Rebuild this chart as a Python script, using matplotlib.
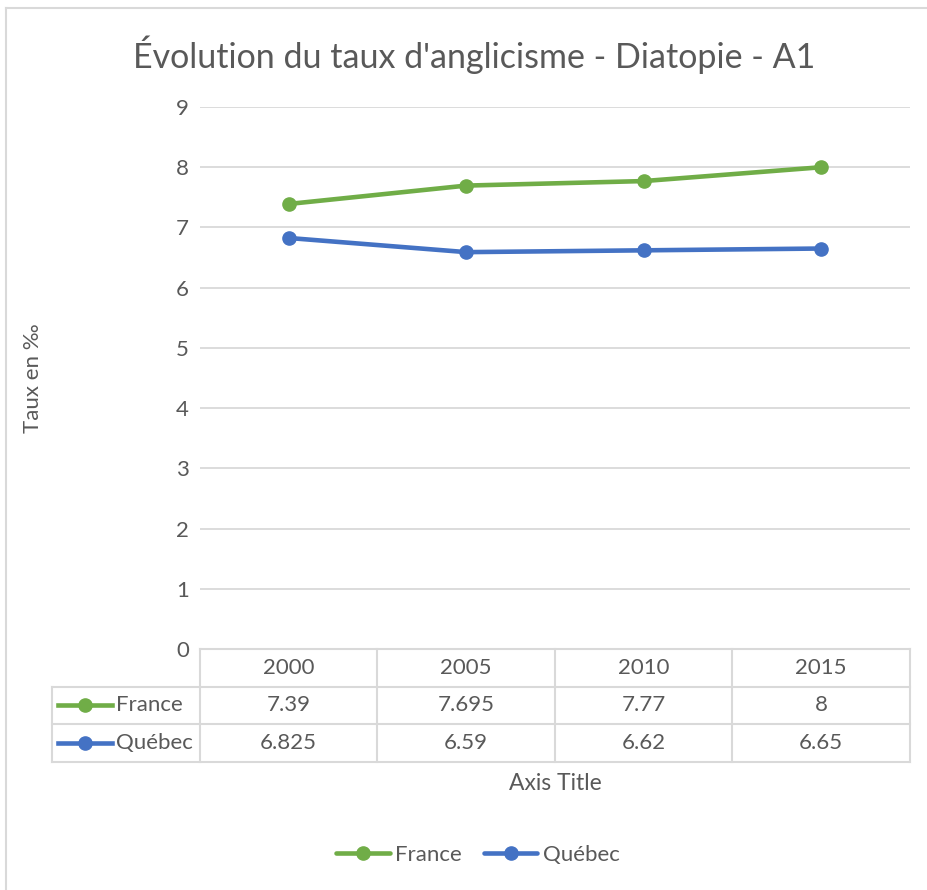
import matplotlib.pyplot as plt
from matplotlib.lines import Line2D
import matplotlib.transforms as mtransforms

plt.rcParams['font.family'] = ['Lato', 'DejaVu Sans']

years = ['2000', '2005', '2010', '2015']
france = [7.39, 7.695, 7.77, 8]
quebec = [6.825, 6.59, 6.62, 6.65]
france_lbl = ['7.39', '7.695', '7.77', '8']
quebec_lbl = ['6.825', '6.59', '6.62', '6.65']

W, H = 928, 890
green = '#70AD47'
blue = '#4472C4'
grey_txt = '#595959'
grid_c = '#D9D9D9'
fs = 16


def fx(x):
    return x / W


def fy(y):
    return 1 - y / H


fig = plt.figure(figsize=(W / 100, H / 100), dpi=100)

# cadre du graphique
fig.add_artist(Line2D([fx(6), fx(6)], [fy(8), fy(890)], color=grid_c, lw=1.5))
fig.add_artist(Line2D([fx(6), fx(928)], [fy(8), fy(8)], color=grid_c, lw=1.5))

ax = fig.add_axes([fx(200), fy(649), fx(910) - fx(200), fy(107) - fy(649)])

xs = list(range(len(years)))
ax.plot(xs, france, color=green, lw=3.3, marker='o', ms=9.5, label='France',
        solid_capstyle='round')
ax.plot(xs, quebec, color=blue, lw=3.3, marker='o', ms=9.5, label='Québec',
        solid_capstyle='round')

ax.set_xlim(-0.5, len(years) - 0.5)
ax.set_ylim(0, 9)
ax.set_yticks(range(0, 10))
ax.set_xticks([])
ax.grid(axis='y', color=grid_c, lw=1.3)
ax.set_axisbelow(True)
for s in ax.spines.values():
    s.set_visible(False)
ax.tick_params(axis='y', length=0, pad=8, labelsize=fs, labelcolor=grey_txt)

fig.text(fx(474), fy(55), "Évolution du taux d'anglicisme - Diatopie - A1",
         ha='center', va='center', fontsize=24.5, color=grey_txt)
fig.text(fx(33), fy(378), 'Taux en ‰', rotation=90, ha='center', va='center',
         fontsize=fs, color=grey_txt)

# table de données sous l'axe
tr = mtransforms.blended_transform_factory(ax.transData, fig.transFigure)
rows_y = [649, 687, 724, 762]
left = -0.5 - (200 - 52) / ((910 - 200) / len(years))
ax.plot([-0.5, len(years) - 0.5], [fy(649)] * 2, transform=tr, color=grid_c,
        lw=1.5, clip_on=False)
for y in rows_y[1:]:
    ax.plot([left, len(years) - 0.5], [fy(y)] * 2, transform=tr, color=grid_c,
            lw=1.5, clip_on=False)
for k in range(len(years) + 1):
    ax.plot([k - 0.5] * 2, [fy(649), fy(762)], transform=tr, color=grid_c,
            lw=1.5, clip_on=False)
ax.plot([left] * 2, [fy(687), fy(762)], transform=tr, color=grid_c, lw=1.5,
        clip_on=False)

for i, yr in enumerate(years):
    ax.text(i, fy(668), yr, transform=tr, ha='center', va='center', fontsize=fs,
            color=grey_txt)
    ax.text(i, fy(705), france_lbl[i], transform=tr, ha='center', va='center',
            fontsize=fs, color=grey_txt)
    ax.text(i, fy(743), quebec_lbl[i], transform=tr, ha='center', va='center',
            fontsize=fs, color=grey_txt)

for name, col, y in [('France', green, 705), ('Québec', blue, 743)]:
    fig.add_artist(Line2D([fx(58), fx(112)], [fy(y), fy(y)], color=col, lw=3.3))
    fig.add_artist(Line2D([fx(85)], [fy(y)], color=col, marker='o', ms=9.5))
    fig.text(fx(116), fy(y), name, ha='left', va='center', fontsize=fs,
             color=grey_txt)

fig.text(fx(555), fy(784), 'Axis Title', ha='center', va='center', fontsize=16.5,
         color=grey_txt)

fig.legend(loc='center', bbox_to_anchor=(fx(478), fy(855)), ncol=2,
           frameon=False, fontsize=fs, handlelength=2.4, handletextpad=0.25,
           columnspacing=1.0, labelcolor=grey_txt)

plt.savefig('out.png', dpi=100)
